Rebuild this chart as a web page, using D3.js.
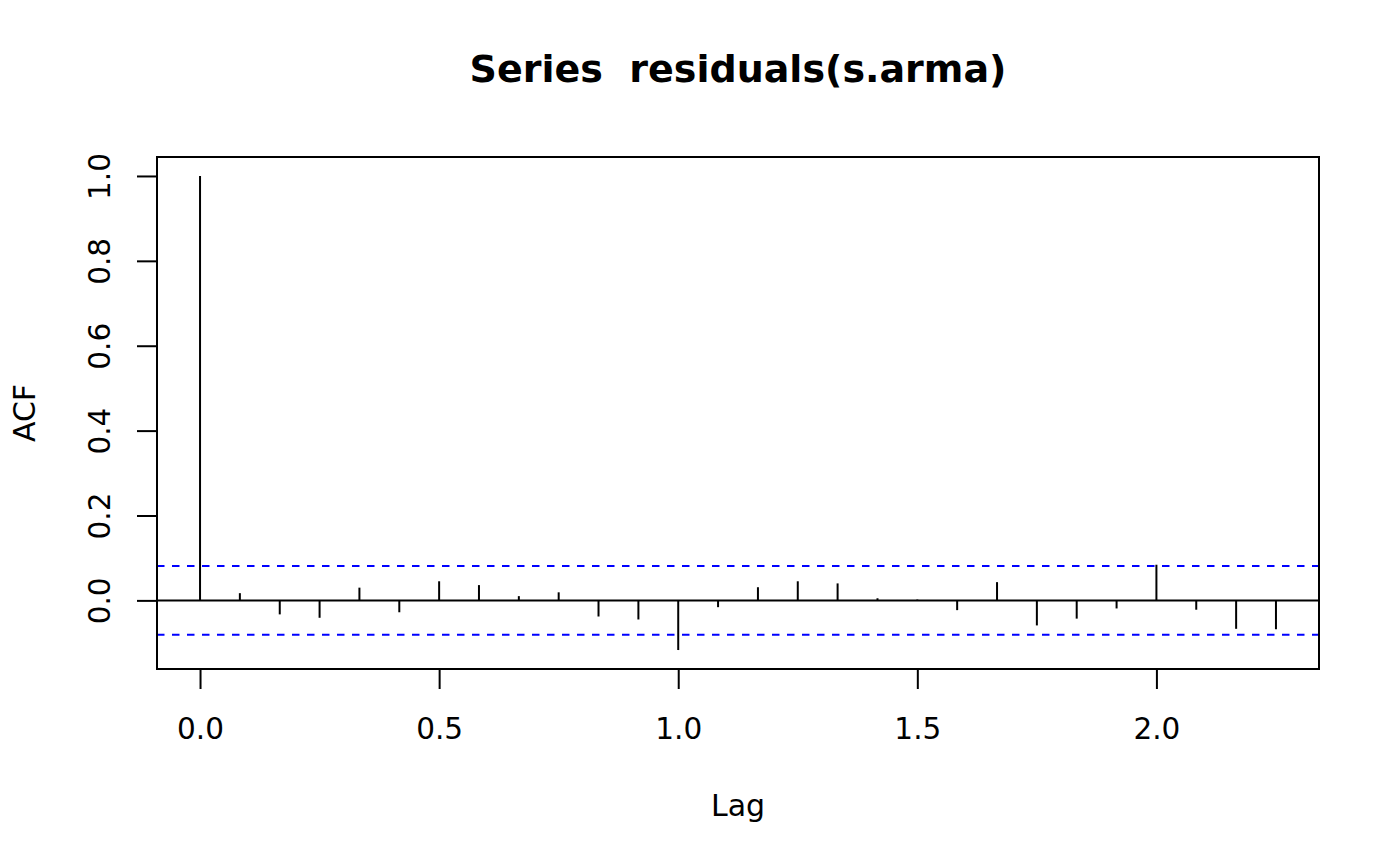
<!DOCTYPE html>
<html>
<head>
<meta charset="utf-8">
<script src="https://cdn.jsdelivr.net/npm/d3@7"></script>
<style>
  html, body { margin: 0; padding: 0; background: #fff; }
  svg { display: block; }
  text { font-family: "DejaVu Sans", sans-serif; fill: #000; white-space: pre; }
</style>
</head>
<body>
<svg id="chart" width="1400" height="866"></svg>
<script>
// ---- data ----
const lags = [0, 0.0833, 0.1667, 0.25, 0.3333, 0.4167, 0.5, 0.5833, 0.6667, 0.75,
              0.8333, 0.9167, 1.0, 1.0833, 1.1667, 1.25, 1.3333, 1.4167, 1.5, 1.5833,
              1.6667, 1.75, 1.8333, 1.9167, 2.0, 2.0833, 2.1667, 2.25];
const acf  = [1.000, 0.017, -0.033, -0.041, 0.030, -0.028, 0.045, 0.036, 0.010, 0.019,
              -0.038, -0.045, -0.117, -0.016, 0.031, 0.045, 0.040, 0.005, 0.002, -0.023,
              0.043, -0.059, -0.043, -0.019, 0.084, -0.022, -0.067, -0.068];
const confLimit = 0.0812;
const xTicks = [0, 0.5, 1.0, 1.5, 2.0];
const xTickLabels = ["0.0", "0.5", "1.0", "1.5", "2.0"];
const yTicks = [0, 0.2, 0.4, 0.6, 0.8, 1.0];
const yTickLabels = ["0.0", "0.2", "0.4", "0.6", "0.8", "1.0"];
const titleText = "Series  residuals(s.arma)";
const xLabel = "Lag";
const yLabel = "ACF";

// ---- layout ----
const box = { left: 157, right: 1319, top: 157, bottom: 669 };
const lw = 2;
const tickFont = 29.5;
const labelFont = 30;

function padRange(lo, hi) { const d = (hi - lo) * 0.04; return [lo - d, hi + d]; }
const xExt = padRange(d3.min(lags), d3.max(lags));
const yExt = padRange(Math.min(d3.min(acf), -confLimit), Math.max(d3.max(acf), confLimit));

const x = d3.scaleLinear().domain(xExt).range([box.left, box.right]);
const y = d3.scaleLinear().domain(yExt).range([box.bottom, box.top]);

const svg = d3.select("#chart");

svg.append("defs").append("clipPath").attr("id", "clip")
  .append("rect").attr("x", box.left).attr("y", box.top)
  .attr("width", box.right - box.left).attr("height", box.bottom - box.top);

const plot = svg.append("g").attr("clip-path", "url(#clip)");

// zero line
plot.append("line")
  .attr("x1", box.left).attr("x2", box.right)
  .attr("y1", y(0)).attr("y2", y(0))
  .attr("stroke", "#000").attr("stroke-width", lw);

// confidence lines
[confLimit, -confLimit].forEach(c => {
  plot.append("line")
    .attr("x1", box.left).attr("x2", box.right)
    .attr("y1", y(c)).attr("y2", y(c))
    .attr("stroke", "#0000FF").attr("stroke-width", lw)
    .attr("stroke-dasharray", "7.5,7.5");
});

// ACF spikes
plot.selectAll("line.spike").data(lags).join("line")
  .attr("class", "spike")
  .attr("x1", d => x(d)).attr("x2", d => x(d))
  .attr("y1", y(0)).attr("y2", (d, i) => y(acf[i]))
  .attr("stroke", "#000").attr("stroke-width", lw);

// box
svg.append("rect")
  .attr("x", box.left).attr("y", box.top)
  .attr("width", box.right - box.left).attr("height", box.bottom - box.top)
  .attr("fill", "none").attr("stroke", "#000").attr("stroke-width", lw);

// x axis
const xAxis = d3.axisBottom(x).tickValues(xTicks)
  .tickFormat((d, i) => xTickLabels[i]).tickSize(20).tickPadding(0);
const gx = svg.append("g").attr("transform", `translate(0,${box.bottom})`).call(xAxis);
gx.select(".domain").attr("d", `M${x(xTicks[0])},0H${x(xTicks[xTicks.length - 1])}`)
  .attr("stroke-width", lw);
gx.selectAll(".tick line").attr("stroke-width", lw);
gx.selectAll(".tick text").attr("font-size", tickFont).attr("font-family", "DejaVu Sans")
  .attr("y", 70).attr("dy", null);

// y axis
const yAxis = d3.axisLeft(y).tickValues(yTicks)
  .tickFormat((d, i) => yTickLabels[i]).tickSize(20).tickPadding(0);
const gy = svg.append("g").attr("transform", `translate(${box.left},0)`).call(yAxis);
gy.select(".domain").attr("d", `M0,${y(yTicks[0])}V${y(yTicks[yTicks.length - 1])}`)
  .attr("stroke-width", lw);
gy.selectAll(".tick line").attr("stroke-width", lw);
gy.selectAll(".tick text")
  .attr("font-size", tickFont).attr("font-family", "DejaVu Sans")
  .attr("x", null).attr("dy", null)
  .attr("text-anchor", "middle")
  .attr("transform", "translate(-47,0) rotate(-90)");

// title
svg.append("text").attr("x", (box.left + box.right) / 2).attr("y", 82)
  .attr("text-anchor", "middle").attr("font-size", 38).attr("font-weight", "bold")
  .attr("xml:space", "preserve")
  .text(titleText);

// axis labels
svg.append("text").attr("x", (box.left + box.right) / 2).attr("y", 816)
  .attr("text-anchor", "middle").attr("font-size", labelFont).text(xLabel);
svg.append("text")
  .attr("transform", `translate(35,${(box.top + box.bottom) / 2}) rotate(-90)`)
  .attr("text-anchor", "middle").attr("font-size", labelFont).text(yLabel);
</script>
</body>
</html>
